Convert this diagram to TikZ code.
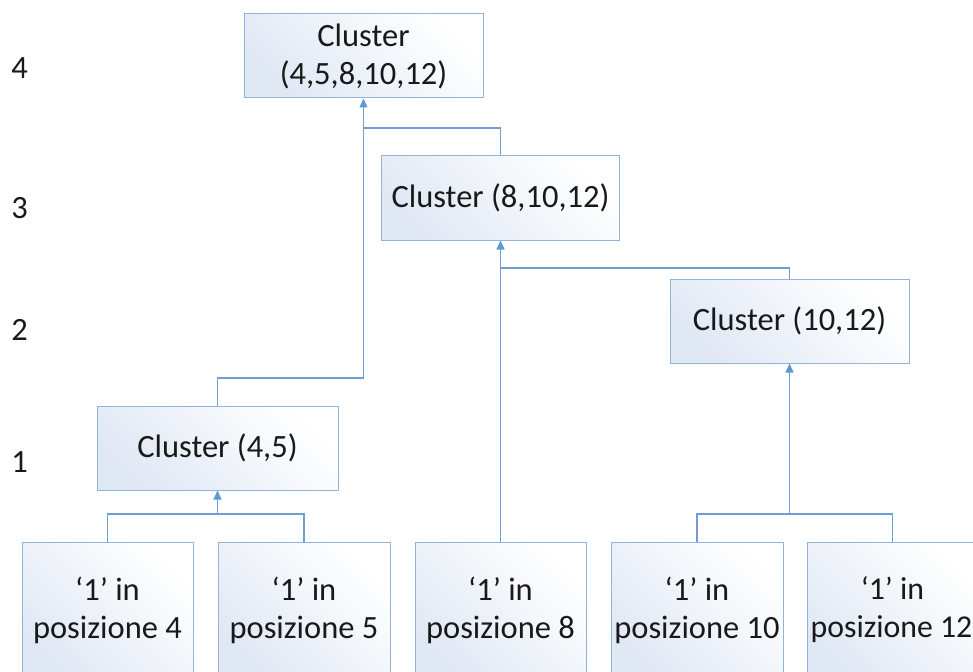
\documentclass[tikz,border=0pt]{standalone}
\usepackage{fontspec}
\setmainfont{Carlito}
\usetikzlibrary{arrows.meta}
\definecolor{boxline}{RGB}{149,179,215}
\definecolor{boxfill}{RGB}{224,232,244}
\definecolor{conncol}{RGB}{110,158,212}
\definecolor{tipcol}{RGB}{91,155,213}
\tikzset{
  clbox/.style={draw=boxline, line width=1pt, top color=boxfill, bottom color=white, shading angle=135,
    minimum height=84pt, inner sep=0pt, align=center, font=\fontsize{32.5}{38}\selectfont, text=black!90},
  leafbox/.style={clbox, minimum height=136pt},
  conn/.style={draw=conncol, line width=1.3pt},
  arr/.style={conn, -{Triangle[length=9pt,width=8pt,color=tipcol]}},
  lvl/.style={inner sep=0pt, font=\fontsize{32.5}{38}\selectfont, text=black!90}
}
\begin{document}
\begin{tikzpicture}[x=1pt,y=-1pt]
\path[use as bounding box, clip] (0,0) rectangle (973,671);
\fill[white] (0,0) rectangle (973,671);
% level labels
\node[lvl] (l4) at (19.5,68) {4};
\node[lvl] (l3) at (19.5,208.5) {3};
\node[lvl] (l2) at (19.5,330) {2};
\node[lvl] (l1) at (19.5,462.5) {1};
% cluster boxes
\node[clbox, minimum width=239pt] (top) at (363.5,56) {Cluster\\(4,5,8,10,12)};
\node[clbox, minimum width=238pt] (c3) at (500.5,198) {Cluster (8,10,12)};
\node[clbox, minimum width=239pt] (c2) at (789.5,321) {Cluster (10,12)};
\node[clbox, minimum width=241pt] (c1) at (217.5,448) {Cluster (4,5)};
% leaves
\node[leafbox, minimum width=171pt] (b4) at (107.5,610) {‘1’ in\\posizione 4};
\node[leafbox, minimum width=172pt] (b5) at (304,610) {‘1’ in\\posizione 5};
\node[leafbox, minimum width=171pt] (b8) at (500.5,610) {‘1’ in\\posizione 8};
\node[leafbox, minimum width=172pt] (b10) at (697,610) {‘1’ in\\posizione 10};
\node[leafbox, minimum width=171pt, font=\fontsize{31.8}{38}\selectfont] (b12) at (892.5,610) {‘1’ in\\posizione 12\hspace*{2pt}};
% junctions
\coordinate (j1) at (217.5,514);
\coordinate (j2) at (789.5,514);
\coordinate (k1) at (363.5,378);
\coordinate (k2) at (363.5,128);
\coordinate (k3) at (500.5,268);
% connectors
\draw[conn] (b4.north) |- (j1) -| (b5.north);
\draw[arr] (j1) -- (c1.south);
\draw[conn] (b10.north) |- (j2) -| (b12.north);
\draw[arr] (j2) -- (c2.south);
\draw[arr] (b8.north) -- (c3.south);
\draw[conn] (c2.north) |- (k3);
\draw[arr] (c1.north) |- (k1) -- (top.south);
\draw[conn] (c3.north) |- (k2);
\end{tikzpicture}
\end{document}
